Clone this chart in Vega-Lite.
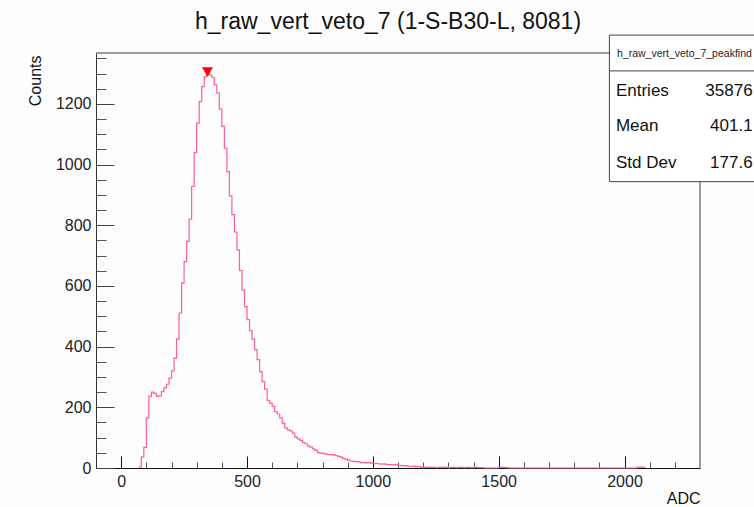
{
  "$schema": "https://vega.github.io/schema/vega-lite/v6.json",
  "width": 604,
  "height": 415,
  "autosize": {"type": "none"},
  "padding": {"left": 96, "top": 53, "right": 54, "bottom": 39},
  "background": "#fdfdfd",
  "config": {"view": {"stroke": null}, "font": "Liberation Sans"},
  "title": {"text": "h_raw_vert_veto_7 (1-S-B30-L, 8081)", "fontSize": 23, "fontWeight": "normal", "font": "Liberation Sans", "color": "#111111", "anchor": "middle", "baseline": "alphabetic", "offset": -17, "dx": -10},
  "datasets": {
    "hist": [
      {"adc": 70, "counts": 4}, {"adc": 80, "counts": 37}, {"adc": 90, "counts": 68}, {"adc": 100, "counts": 165},
      {"adc": 110, "counts": 236}, {"adc": 120, "counts": 250}, {"adc": 130, "counts": 246}, {"adc": 140, "counts": 236},
      {"adc": 150, "counts": 238}, {"adc": 160, "counts": 252}, {"adc": 170, "counts": 264}, {"adc": 180, "counts": 276},
      {"adc": 190, "counts": 296}, {"adc": 200, "counts": 320}, {"adc": 210, "counts": 362}, {"adc": 220, "counts": 425},
      {"adc": 230, "counts": 511}, {"adc": 240, "counts": 610}, {"adc": 250, "counts": 680}, {"adc": 260, "counts": 747},
      {"adc": 270, "counts": 820}, {"adc": 280, "counts": 928}, {"adc": 290, "counts": 1040}, {"adc": 300, "counts": 1137},
      {"adc": 310, "counts": 1208}, {"adc": 320, "counts": 1257}, {"adc": 330, "counts": 1290}, {"adc": 340, "counts": 1300},
      {"adc": 350, "counts": 1295}, {"adc": 360, "counts": 1288}, {"adc": 370, "counts": 1263}, {"adc": 380, "counts": 1236},
      {"adc": 390, "counts": 1183}, {"adc": 400, "counts": 1126}, {"adc": 410, "counts": 1054}, {"adc": 420, "counts": 977},
      {"adc": 430, "counts": 897}, {"adc": 440, "counts": 835}, {"adc": 450, "counts": 778}, {"adc": 460, "counts": 719},
      {"adc": 470, "counts": 651}, {"adc": 480, "counts": 587}, {"adc": 490, "counts": 532}, {"adc": 500, "counts": 489},
      {"adc": 510, "counts": 453}, {"adc": 520, "counts": 425}, {"adc": 530, "counts": 390}, {"adc": 540, "counts": 357},
      {"adc": 550, "counts": 318}, {"adc": 560, "counts": 285}, {"adc": 570, "counts": 260}, {"adc": 580, "counts": 223},
      {"adc": 590, "counts": 214}, {"adc": 600, "counts": 203}, {"adc": 610, "counts": 186}, {"adc": 620, "counts": 178},
      {"adc": 630, "counts": 165}, {"adc": 640, "counts": 148}, {"adc": 650, "counts": 132}, {"adc": 660, "counts": 126},
      {"adc": 670, "counts": 122}, {"adc": 680, "counts": 115}, {"adc": 690, "counts": 102}, {"adc": 700, "counts": 96},
      {"adc": 710, "counts": 91}, {"adc": 720, "counts": 84}, {"adc": 730, "counts": 80}, {"adc": 740, "counts": 73},
      {"adc": 750, "counts": 69}, {"adc": 760, "counts": 62}, {"adc": 770, "counts": 58}, {"adc": 780, "counts": 51},
      {"adc": 790, "counts": 49}, {"adc": 800, "counts": 48}, {"adc": 810, "counts": 46}, {"adc": 820, "counts": 44},
      {"adc": 830, "counts": 44}, {"adc": 840, "counts": 43}, {"adc": 850, "counts": 41}, {"adc": 860, "counts": 38},
      {"adc": 870, "counts": 36}, {"adc": 880, "counts": 31}, {"adc": 890, "counts": 29}, {"adc": 900, "counts": 26},
      {"adc": 910, "counts": 23}, {"adc": 920, "counts": 22}, {"adc": 930, "counts": 21}, {"adc": 940, "counts": 20},
      {"adc": 950, "counts": 18}, {"adc": 960, "counts": 18}, {"adc": 970, "counts": 17}, {"adc": 980, "counts": 18},
      {"adc": 990, "counts": 16}, {"adc": 1000, "counts": 14}, {"adc": 1010, "counts": 15}, {"adc": 1020, "counts": 14},
      {"adc": 1030, "counts": 13}, {"adc": 1040, "counts": 14}, {"adc": 1050, "counts": 12}, {"adc": 1060, "counts": 11},
      {"adc": 1070, "counts": 11}, {"adc": 1080, "counts": 10}, {"adc": 1090, "counts": 11}, {"adc": 1100, "counts": 9},
      {"adc": 1110, "counts": 8}, {"adc": 1120, "counts": 8}, {"adc": 1130, "counts": 7}, {"adc": 1140, "counts": 5},
      {"adc": 1150, "counts": 5}, {"adc": 1160, "counts": 6}, {"adc": 1170, "counts": 4}, {"adc": 1180, "counts": 5},
      {"adc": 1190, "counts": 2}, {"adc": 1200, "counts": 3}, {"adc": 1210, "counts": 2}, {"adc": 1220, "counts": 2},
      {"adc": 1230, "counts": 3}, {"adc": 1240, "counts": 2}, {"adc": 1250, "counts": 1}, {"adc": 1260, "counts": 2},
      {"adc": 1270, "counts": 2}, {"adc": 1280, "counts": 3}, {"adc": 1290, "counts": 2}, {"adc": 1300, "counts": 1},
      {"adc": 1310, "counts": 2}, {"adc": 1320, "counts": 2}, {"adc": 1330, "counts": 1}, {"adc": 1340, "counts": 2},
      {"adc": 1350, "counts": 2}, {"adc": 1360, "counts": 1}, {"adc": 1370, "counts": 2}, {"adc": 1380, "counts": 2},
      {"adc": 1390, "counts": 1}, {"adc": 1400, "counts": 2}, {"adc": 1410, "counts": 2}, {"adc": 1420, "counts": 1},
      {"adc": 1430, "counts": 1}, {"adc": 1440, "counts": 0}, {"adc": 1500, "counts": 2}, {"adc": 1510, "counts": 2},
      {"adc": 1520, "counts": 2}, {"adc": 1530, "counts": 1}, {"adc": 1540, "counts": 0}, {"adc": 2050, "counts": 3},
      {"adc": 2060, "counts": 3}, {"adc": 2070, "counts": 2}, {"adc": 2080, "counts": 0}
    ],
    "peak": [{"adc": 343, "counts": 1305}],
    "statbox": [{"name": "h_raw_vert_veto_7_peakfind"}],
    "stats": [
      {"stat": "Entries", "value": "35876"},
      {"stat": "Mean", "value": "401.1"},
      {"stat": "Std Dev", "value": "177.6"}
    ]
  },
  "resolve": {"axis": {"x": "independent", "y": "independent"}},
  "layer": [
    {
      "data": {"name": "hist"},
      "mark": {"type": "line", "interpolate": "step-after", "color": "#ff5f93", "strokeWidth": 1.2},
      "encoding": {
        "x": {
          "field": "adc", "type": "quantitative",
          "scale": {"domain": [-100, 2300], "nice": false, "zero": false},
          "axis": {"orient": "bottom", "values": [0, 500, 1000, 1500, 2000], "format": "d", "tickSize": -12, "tickColor": "#111111", "domainColor": "#111111", "grid": false,
            "labelFontSize": 16, "labelColor": "#222222", "labelFont": "Liberation Sans", "labelPadding": 17,
            "title": "ADC", "titleFontSize": 16, "titleFontWeight": "normal", "titleFont": "Liberation Sans", "titleColor": "#111111",
            "titleAlign": "right", "titleBaseline": "alphabetic", "titleX": 604, "titleY": 35}
        },
        "y": {
          "field": "counts", "type": "quantitative",
          "scale": {"domain": [0, 1368], "nice": false},
          "axis": {"orient": "left", "values": [0, 200, 400, 600, 800, 1000, 1200], "format": "d", "tickSize": -18, "tickColor": "#444444", "domainColor": "#333333", "grid": false,
            "labelFontSize": 16, "labelColor": "#222222", "labelFont": "Liberation Sans", "labelPadding": 23,
            "title": "Counts", "titleFontSize": 16, "titleFontWeight": "normal", "titleFont": "Liberation Sans", "titleColor": "#111111",
            "titleAngle": -90, "titleAlign": "right", "titleBaseline": "middle", "titleX": -61, "titleY": 2}
        }
      }
    },
    {
      "data": {"name": "peak"},
      "mark": {"type": "point", "shape": "triangle-down", "filled": true, "color": "#ff0000", "size": 121, "opacity": 1},
      "encoding": {
        "x": {"field": "adc", "type": "quantitative",
          "axis": {"orient": "bottom", "values": [100, 200, 300, 400, 600, 700, 800, 900, 1100, 1200, 1300, 1400, 1600, 1700, 1800, 1900, 2100, 2200], "tickSize": -6, "tickColor": "#555555", "domain": false, "labels": false, "title": null, "grid": false}},
        "y": {"field": "counts", "type": "quantitative",
          "axis": {"orient": "left", "values": [50, 100, 150, 250, 300, 350, 450, 500, 550, 650, 700, 750, 850, 900, 950, 1050, 1100, 1150, 1250, 1300, 1350], "tickSize": -10, "tickColor": "#555555", "domain": false, "labels": false, "title": null, "grid": false}}
      }
    },
    {
      "data": {"name": "statbox"},
      "mark": {"type": "rule", "color": "#7a7a7a", "strokeWidth": 1.5, "clip": false},
      "encoding": {
        "x": {"datum": -100, "type": "quantitative", "axis": null},
        "x2": {"datum": 2300},
        "y": {"datum": 1368, "type": "quantitative", "axis": null}
      }
    },
    {
      "data": {"name": "statbox"},
      "mark": {"type": "rule", "color": "#7a7a7a", "strokeWidth": 1.5, "clip": false},
      "encoding": {
        "x": {"datum": 2300, "type": "quantitative", "axis": null},
        "y": {"datum": 0, "type": "quantitative", "axis": null},
        "y2": {"datum": 1368}
      }
    },
    {
      "data": {"name": "statbox"},
      "mark": {"type": "rect", "fill": "#ffffff", "stroke": "#444444", "strokeWidth": 1, "clip": false},
      "encoding": {
        "x": {"datum": 1940, "type": "quantitative", "axis": null},
        "x2": {"datum": 2546},
        "y": {"datum": 1427, "type": "quantitative", "axis": null},
        "y2": {"datum": 944}
      }
    },
    {
      "data": {"name": "statbox"},
      "mark": {"type": "rule", "color": "#444444", "strokeWidth": 1, "clip": false},
      "encoding": {
        "x": {"datum": 1940, "type": "quantitative", "axis": null},
        "x2": {"datum": 2546},
        "y": {"datum": 1309, "type": "quantitative", "axis": null}
      }
    },
    {
      "data": {"name": "statbox"},
      "mark": {"type": "text", "fontSize": 10.5, "font": "Liberation Sans", "color": "#222222", "align": "center", "baseline": "middle", "clip": false},
      "encoding": {
        "x": {"datum": 2238, "type": "quantitative", "axis": null},
        "y": {"datum": 1366, "type": "quantitative", "axis": null},
        "text": {"field": "name"}
      }
    },
    {
      "data": {"name": "stats"},
      "transform": [{"filter": "datum.stat === 'Entries'"}],
      "layer": [
        {"mark": {"type": "text", "fontSize": 17, "font": "Liberation Sans", "color": "#111111", "align": "left", "baseline": "middle", "clip": false},
         "encoding": {"x": {"datum": 1966, "type": "quantitative", "axis": null}, "y": {"datum": 1243, "type": "quantitative", "axis": null}, "text": {"field": "stat"}}},
        {"mark": {"type": "text", "fontSize": 17, "font": "Liberation Sans", "color": "#111111", "align": "right", "baseline": "middle", "clip": false},
         "encoding": {"x": {"datum": 2509, "type": "quantitative", "axis": null}, "y": {"datum": 1243, "type": "quantitative", "axis": null}, "text": {"field": "value"}}}
      ]
    },
    {
      "data": {"name": "stats"},
      "transform": [{"filter": "datum.stat === 'Mean'"}],
      "layer": [
        {"mark": {"type": "text", "fontSize": 17, "font": "Liberation Sans", "color": "#111111", "align": "left", "baseline": "middle", "clip": false},
         "encoding": {"x": {"datum": 1966, "type": "quantitative", "axis": null}, "y": {"datum": 1127, "type": "quantitative", "axis": null}, "text": {"field": "stat"}}},
        {"mark": {"type": "text", "fontSize": 17, "font": "Liberation Sans", "color": "#111111", "align": "right", "baseline": "middle", "clip": false},
         "encoding": {"x": {"datum": 2509, "type": "quantitative", "axis": null}, "y": {"datum": 1127, "type": "quantitative", "axis": null}, "text": {"field": "value"}}}
      ]
    },
    {
      "data": {"name": "stats"},
      "transform": [{"filter": "datum.stat === 'Std Dev'"}],
      "layer": [
        {"mark": {"type": "text", "fontSize": 17, "font": "Liberation Sans", "color": "#111111", "align": "left", "baseline": "middle", "clip": false},
         "encoding": {"x": {"datum": 1966, "type": "quantitative", "axis": null}, "y": {"datum": 1007, "type": "quantitative", "axis": null}, "text": {"field": "stat"}}},
        {"mark": {"type": "text", "fontSize": 17, "font": "Liberation Sans", "color": "#111111", "align": "right", "baseline": "middle", "clip": false},
         "encoding": {"x": {"datum": 2509, "type": "quantitative", "axis": null}, "y": {"datum": 1007, "type": "quantitative", "axis": null}, "text": {"field": "value"}}}
      ]
    }
  ]
}
